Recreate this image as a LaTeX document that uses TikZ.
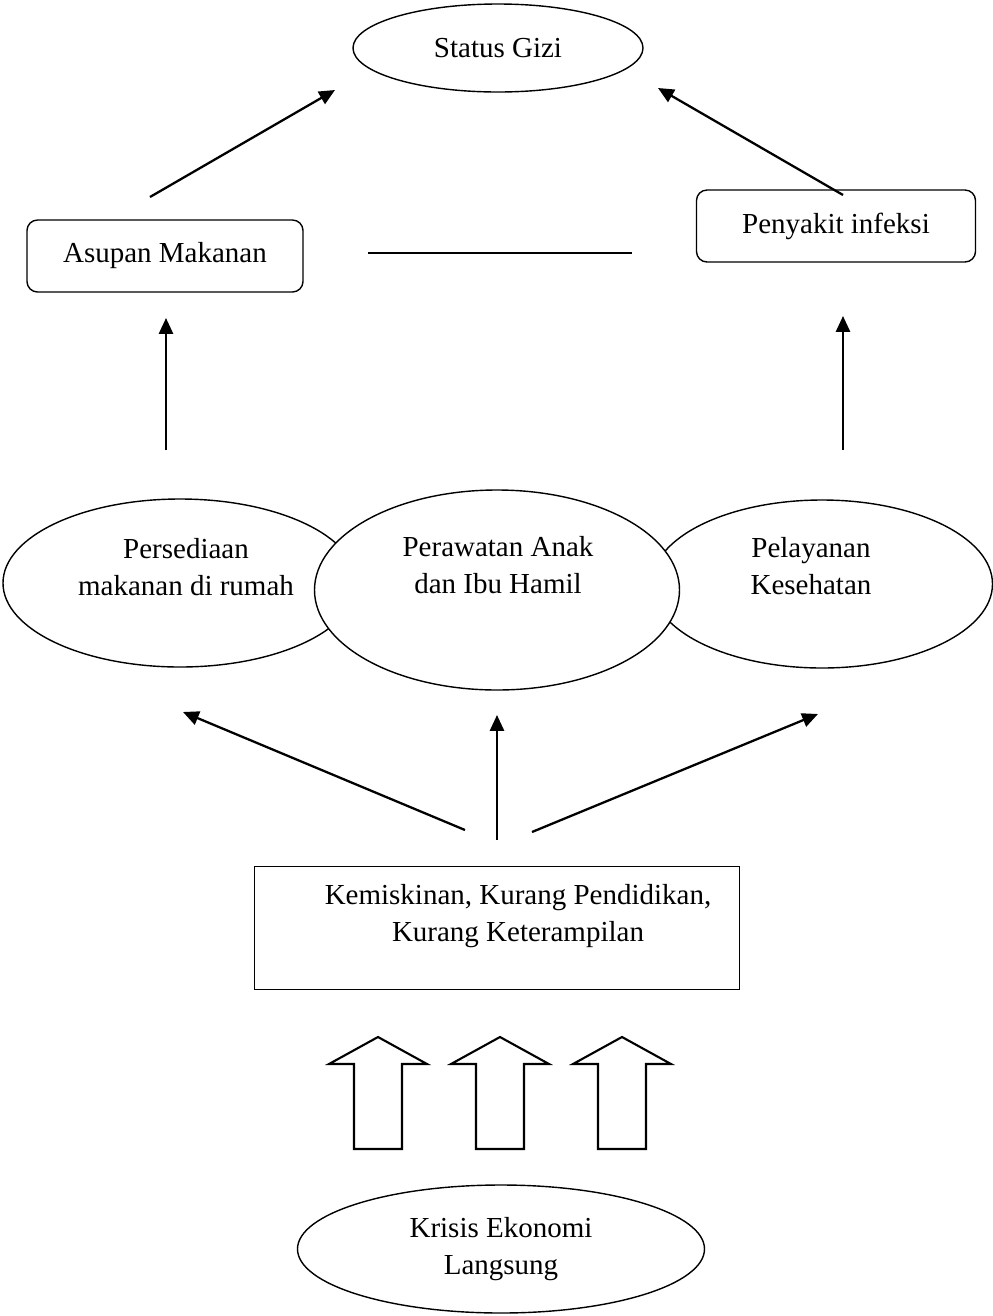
\documentclass[tikz,border=0pt]{standalone}
\usepackage{fontspec}
\setmainfont{Liberation Serif}
\usetikzlibrary{arrows.meta,positioning,shapes.geometric}

\begin{document}
\begin{tikzpicture}[x=0.02cm,y=-0.02cm,
  >={Triangle[length=9pt,width=8pt]},
  teks/.style={font=\fontsize{16.5pt}{21pt}\selectfont,align=center,inner sep=0pt},
  oval/.style={ellipse,draw,line width=0.8pt,fill=white,inner sep=0pt,teks},
  kotak/.style={rectangle,draw,line width=0.8pt,rounded corners=6pt,inner sep=0pt,teks},
  kotaksiku/.style={rectangle,draw,line width=0.8pt,inner sep=0pt},
  arc/.style={->,line width=1.3pt},
  garis/.style={line width=1.3pt},
  blok/.style={draw,line width=1.2pt,line join=miter,fill=white}
]
\useasboundingbox (0,0) rectangle (993,1316);
%% Nodes
\node[oval,minimum width=290*0.02cm,minimum height=88*0.02cm] (gizi) at (498,48) {Status Gizi};
\node[kotak,minimum width=276*0.02cm,minimum height=72*0.02cm] (asupan) at (165,256) {Asupan Makanan};
\node[kotak,minimum width=279*0.02cm,minimum height=72*0.02cm] (infeksi) at (836,226) {Penyakit infeksi};
\node[oval,minimum width=354*0.02cm,minimum height=168*0.02cm] (sedia) at (180,583) {};
\node[oval,minimum width=341*0.02cm,minimum height=168*0.02cm] (layan) at (822,584) {};
\node[oval,minimum width=365*0.02cm,minimum height=200*0.02cm] (rawat) at (497,590) {};
\node[teks] (sediateks) at (186,567) {Persediaan\\makanan di rumah};
\node[teks] (rawatteks) at (498,565) {Perawatan Anak\\dan Ibu Hamil};
\node[teks] (layanteks) at (811,566) {Pelayanan\\Kesehatan};
\node[kotaksiku,minimum width=485*0.02cm,minimum height=123*0.02cm] (miskin) at (497,928) {};
\node[teks] (miskinteks) at (518,916) {Kemiskinan, Kurang Pendidikan,\\Kurang Keterampilan};
\node[oval,minimum width=407*0.02cm,minimum height=128*0.02cm] (krisis) at (501,1249) {Krisis Ekonomi\\Langsung};
%% Ujung panah
\coordinate (a1) at (150,197);  \coordinate (a2) at (335,90);
\coordinate (b1) at (843,195);  \coordinate (b2) at (658,88);
\coordinate (c1) at (368,253);  \coordinate (c2) at (632,253);
\coordinate (d1) at (166,450);  \coordinate (d2) at (166,318);
\coordinate (e1) at (843,450);  \coordinate (e2) at (843,316);
\coordinate (f1) at (465,830);  \coordinate (f2) at (183,712);
\coordinate (g1) at (497,840);  \coordinate (g2) at (497,715);
\coordinate (h1) at (532,832);  \coordinate (h2) at (818,714);
%% Arcs
\draw[arc] (a1) -- (a2);
\draw[arc] (b1) -- (b2);
\draw[garis] (c1) -- (c2);
\draw[arc] (d1) -- (d2);
\draw[arc] (e1) -- (e2);
\draw[arc] (f1) -- (f2);
\draw[arc] (g1) -- (g2);
\draw[arc] (h1) -- (h2);
%% Panah blok
\foreach \x in {378,500,622}
  \draw[blok] (\x-24,1149) -- (\x-24,1064) -- (\x-49,1064) -- (\x,1037)
    -- (\x+49,1064) -- (\x+24,1064) -- (\x+24,1149) -- cycle;
\end{tikzpicture}
\end{document}
